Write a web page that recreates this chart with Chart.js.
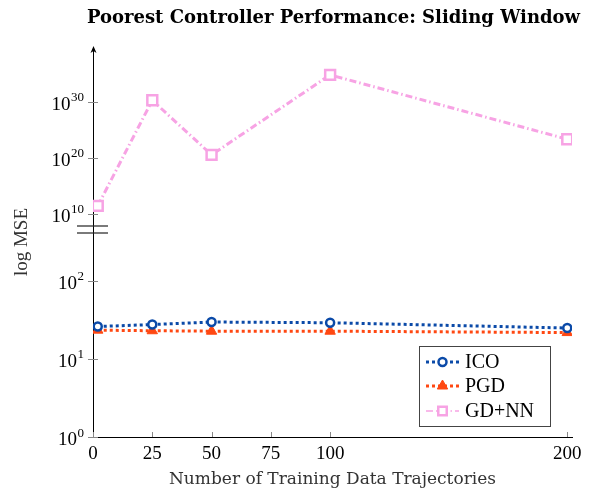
<!DOCTYPE html>
<html>
<head>
<meta charset="utf-8">
<script src="https://cdn.jsdelivr.net/npm/chart.js@4.4.1/dist/chart.umd.min.js"></script>
<style>
  html, body { margin: 0; padding: 0; background: #fff; }
  #wrap { width: 590px; height: 495px; position: relative; }
</style>
</head>
<body>
<div id="wrap"><canvas id="mseChart"></canvas></div>
<script>
// training set sizes and worst-case MSE per controller
var trajCounts = [2, 25, 50, 100, 200];
var icoMse = [25.9, 27.5, 29.6, 29.0, 24.8];
var pgdMse = [23.3, 22.9, 22.6, 22.6, 21.7];
var gdnnMse = [2.5e11, 1.8e30, 3.2e20, 6.3e34, 2.0e23];

var xTicks = [0, 25, 50, 75, 100, 200];
var lowTicks = [1, 10, 100];
var highTicks = [1e10, 1e20, 1e30];

var chartTitle = 'Poorest Controller Performance: Sliding Window';
var serif = "'Liberation Serif', 'DejaVu Serif', serif";
var wideSerif = "'DejaVu Serif', serif";
var blue = '#0b4aa8';
var red = '#ff4812';
var pink = '#f7a3e4';

function setTicks(list) {
  return function(scale) {
    scale.ticks = list.map(function(v) { return {value: v}; });
  };
}

// axis decorations: title, tick marks, 10^n labels, break marks, arrow, y title, legend
var axisDecor = {
  id: 'axisDecor',
  afterDraw: function(chart) {
    var ctx = chart.ctx;
    var area = chart.chartArea;
    var xs = chart.scales.x, yb = chart.scales.yBot, yt = chart.scales.yTop;
    var ax = area.left;
    ctx.save();

    // title centred over the plot area
    ctx.fillStyle = '#000';
    ctx.font = 'bold 18px ' + wideSerif;
    ctx.textAlign = 'center';
    ctx.textBaseline = 'middle';
    ctx.fillText(chartTitle, (area.left + area.right) / 2 + 1, 18);

    // y tick marks crossing the axis
    ctx.strokeStyle = '#888';
    ctx.lineWidth = 1;
    [yb, yt].forEach(function(sc) {
      sc.ticks.forEach(function(t) {
        var y = Math.round(sc.getPixelForValue(t.value)) + 0.5;
        ctx.beginPath(); ctx.moveTo(ax - 5, y); ctx.lineTo(ax + 5, y); ctx.stroke();
      });
    });
    // x tick marks pointing inward
    xs.ticks.forEach(function(t) {
      var x = Math.round(xs.getPixelForValue(t.value)) + 0.5;
      ctx.beginPath(); ctx.moveTo(x, xs.top); ctx.lineTo(x, xs.top - 5); ctx.stroke();
    });

    // 10^n labels
    ctx.fillStyle = '#000';
    ctx.textBaseline = 'alphabetic';
    ctx.textAlign = 'left';
    [yb, yt].forEach(function(sc) {
      sc.ticks.forEach(function(t) {
        var y = sc.getPixelForValue(t.value);
        var ex = String(Math.round(Math.log10(t.value)));
        ctx.font = '13px ' + serif;
        var ew = ctx.measureText(ex).width;
        ctx.font = '19px ' + serif;
        var bw = ctx.measureText('10').width;
        var right = ax - 9;
        ctx.fillText('10', right - ew - bw - 0.5, y + 8);
        ctx.font = '13px ' + serif;
        ctx.fillText(ex, right - ew, y - 0.5);
      });
    });

    // axis break
    ctx.strokeStyle = '#222';
    ctx.lineWidth = 1.2;
    var bb = yt.bottom;
    [bb - 7, bb].forEach(function(y) {
      ctx.beginPath(); ctx.moveTo(ax - 16, y); ctx.lineTo(ax + 15, y); ctx.stroke();
    });

    // arrow head on the y axis
    ctx.fillStyle = '#000';
    ctx.beginPath();
    ctx.moveTo(ax + 0.5, yt.top - 2);
    ctx.lineTo(ax - 2.5, yt.top + 5);
    ctx.lineTo(ax + 0.5, yt.top + 3);
    ctx.lineTo(ax + 3.5, yt.top + 5);
    ctx.closePath();
    ctx.fill();

    // y axis title
    ctx.save();
    ctx.translate(22, 242);
    ctx.rotate(-Math.PI / 2);
    ctx.textAlign = 'center';
    ctx.textBaseline = 'middle';
    ctx.fillStyle = '#333';
    ctx.font = '19px ' + serif;
    ctx.fillText('log MSE', 0, 0);
    ctx.restore();

    // legend box
    var lx = 419, ly = 346, lw = 131, lh = 80;
    ctx.fillStyle = '#fff';
    ctx.fillRect(lx, ly, lw, lh);
    ctx.strokeStyle = '#444';
    ctx.lineWidth = 1;
    ctx.strokeRect(lx + 0.5, ly + 0.5, lw, lh);
    var rows = [362, 386, 411];
    chart.data.datasets.forEach(function(ds, i) {
      var y = rows[i];
      ctx.save();
      ctx.strokeStyle = ds.borderColor;
      ctx.lineWidth = ds.legendWidth || ds.borderWidth;
      ctx.setLineDash(ds.borderDash || []);
      ctx.beginPath(); ctx.moveTo(426, y); ctx.lineTo(459, y); ctx.stroke();
      ctx.setLineDash([]);
      ctx.fillStyle = ds.pointBackgroundColor;
      ctx.strokeStyle = ds.pointBorderColor;
      ctx.lineWidth = ds.pointBorderWidth;
      Chart.helpers.drawPoint(ctx, {
        pointStyle: ds.pointStyle, radius: ds.legendRadius || ds.pointRadius,
        borderWidth: ds.pointBorderWidth, rotation: 0
      }, 442.5, y);
      ctx.restore();
      ctx.fillStyle = '#000';
      ctx.font = '20px ' + serif;
      ctx.textAlign = 'left';
      ctx.textBaseline = 'middle';
      ctx.fillText(ds.label, 465, y + 1);
    });

    ctx.restore();
  }
};

var ctx = document.getElementById('mseChart').getContext('2d');
var mseChart = new Chart(ctx, {
  type: 'line',
  plugins: [axisDecor],
  data: {
    labels: trajCounts,
    datasets: [{
      label: 'ICO',
      data: trajCounts.map(function(x, i) { return {x: x, y: icoMse[i]}; }),
      yAxisID: 'yBot',
      borderColor: blue,
      borderWidth: 3,
      borderDash: [3, 3],
      pointStyle: 'circle',
      pointRadius: 4,
      pointBorderWidth: 2.5,
      pointBorderColor: blue,
      pointBackgroundColor: '#fff',
      tension: 0
    }, {
      label: 'PGD',
      data: trajCounts.map(function(x, i) { return {x: x, y: pgdMse[i]}; }),
      yAxisID: 'yBot',
      borderColor: red,
      borderWidth: 3,
      borderDash: [3, 3],
      pointStyle: 'triangle',
      pointRadius: 6,
      pointBorderWidth: 1,
      pointBorderColor: red,
      pointBackgroundColor: red,
      tension: 0
    }, {
      label: 'GD+NN',
      data: trajCounts.map(function(x, i) { return {x: x, y: gdnnMse[i]}; }),
      yAxisID: 'yTop',
      borderColor: pink,
      borderWidth: 3,
      borderDash: [7, 3, 1.5, 3],
      legendWidth: 1.5,
      legendRadius: 6,
      pointStyle: 'rect',
      pointRadius: 7,
      pointBorderWidth: 2.5,
      pointBorderColor: pink,
      pointBackgroundColor: '#fff',
      tension: 0
    }]
  },
  options: {
    responsive: true,
    maintainAspectRatio: false,
    animation: false,
    layout: { padding: { left: 0, right: 18, top: 48, bottom: 0 } },
    scales: {
      x: {
        type: 'linear',
        min: 0,
        max: 202,
        afterBuildTicks: setTicks(xTicks),
        afterFit: function(scale) { scale.height = 58; },
        grid: { display: false },
        border: { display: true, color: '#000', width: 1 },
        ticks: {
          color: '#000',
          padding: -2,
          autoSkip: false,
          maxRotation: 0,
          font: { family: serif, size: 19 }
        },
        title: {
          display: true,
          text: 'Number of Training Data Trajectories',
          color: '#333',
          padding: { top: 0, bottom: 5 },
          font: { family: wideSerif, size: 17 }
        }
      },
      yBot: {
        type: 'logarithmic',
        position: 'left',
        stack: 'mse',
        stackWeight: 204,
        min: 1,
        max: 408,
        bounds: 'data',
        afterBuildTicks: setTicks(lowTicks),
        afterFit: function(scale) { scale.width = 93; },
        grid: { display: false },
        border: { display: true, color: '#000', width: 1 },
        ticks: { display: false }
      },
      yTop: {
        type: 'logarithmic',
        position: 'left',
        stack: 'mse',
        stackWeight: 185,
        min: 3.5e6,
        max: 4e39,
        bounds: 'data',
        afterBuildTicks: setTicks(highTicks),
        afterFit: function(scale) { scale.width = 93; },
        grid: { display: false },
        border: { display: true, color: '#000', width: 1 },
        ticks: { display: false }
      }
    },
    plugins: {
      legend: { display: false },
      tooltip: { enabled: false },
      title: { display: false }
    }
  }
});
</script>
</body>
</html>
